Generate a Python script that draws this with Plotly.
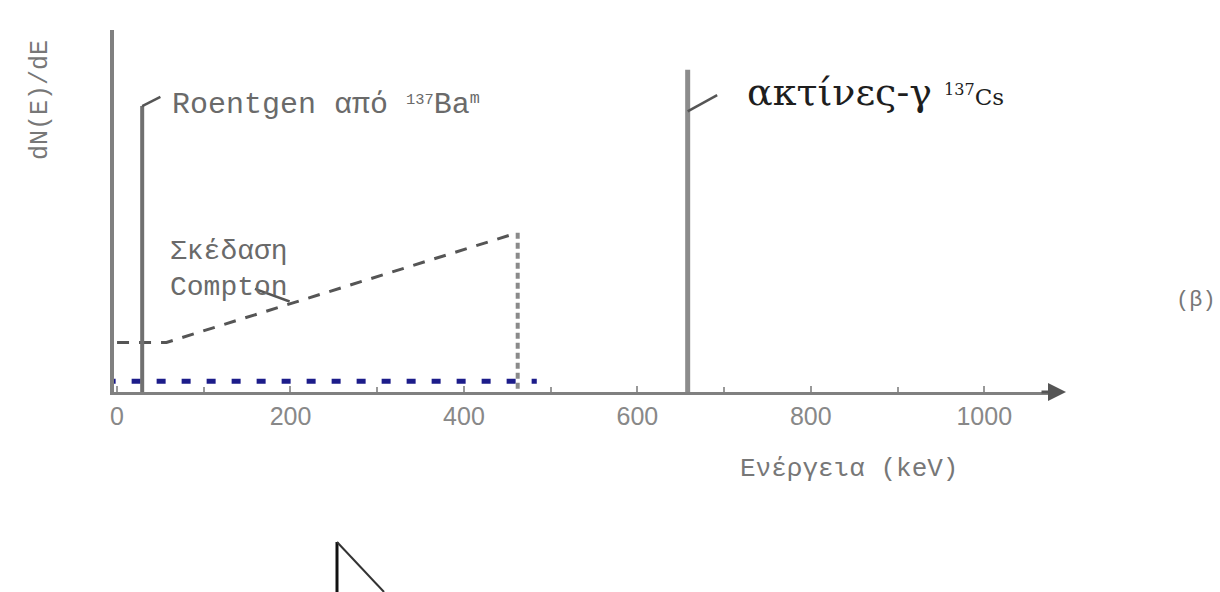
import plotly.graph_objects as go

# Energy spectrum of a 137Cs source (sketch): X-ray line, Compton continuum, photopeak
xray_energy = [29, 29]            # keV, Roentgen lines from 137Ba^m
xray_counts = [0, 79]
gamma_energy = [658, 658]         # keV, 137Cs gamma line
gamma_counts = [0, 89]
compton_energy = [0, 57, 462]     # Compton continuum up to the edge
compton_counts = [13.7, 13.7, 44]
edge_energy = [462, 462]
edge_counts = [44, 0]
base_energy = [-12, 484]
base_counts = [3, 3]
tick_vals = [0, 200, 400, 600, 800, 1000]
tick_text = ["0", "200", "400", "600", "800", "1000"]

W, H = 1220, 592
L, R, T, B = 114, 162, 30, 200
PW, PH = W - L - R, H - T - B


def px(xp):
    return (xp - L) / PW


def py(yp):
    return (H - B - yp) / PH


GREY = "#808080"
MONO = "Liberation Mono, DejaVu Sans Mono, monospace"

fig = go.Figure()
fig.add_trace(go.Scatter(x=base_energy, y=base_counts, mode="lines",
                         line=dict(color="#1c1c8a", width=5, dash="9px,16px")))
fig.add_trace(go.Scatter(x=compton_energy, y=compton_counts, mode="lines",
                         line=dict(color="#555555", width=3, dash="12px,10px")))
fig.add_trace(go.Scatter(x=edge_energy, y=edge_counts, mode="lines",
                         line=dict(color="#8a8a8a", width=4, dash="6px,4px")))
fig.add_trace(go.Scatter(x=xray_energy, y=xray_counts, mode="lines",
                         line=dict(color="#707070", width=4)))
fig.add_trace(go.Scatter(x=gamma_energy, y=gamma_counts, mode="lines",
                         line=dict(color="#8c8c8c", width=5)))

# leader lines from the marks to their labels
leaders = [((29, 79), (50, 81.5)), ((658, 77.5), (692, 82)), ((159, 28.5), (199, 25))]
for (x0, y0), (x1, y1) in leaders:
    fig.add_shape(type="line", x0=x0, y0=y0, x1=x1, y1=y1, xref="x", yref="y",
                  line=dict(color="#555555", width=2.5))

# corner mark below the chart
fig.add_shape(type="line", xref="paper", yref="paper", x0=px(337), y0=py(542),
              x1=px(337), y1=py(595), line=dict(color="#111111", width=3))
fig.add_shape(type="line", xref="paper", yref="paper", x0=px(337), y0=py(542),
              x1=px(384), y1=py(592), line=dict(color="#333333", width=2))

ann = []
ann.append(dict(x=px(170), y=py(105),
                text="Roentgen από <span style='font-size:22px'><sup>137</sup></span>Ba"
                     "<span style='font-size:24px'><sup>m</sup></span>",
                font=dict(family=MONO, size=30, color="#6a6a6a")))
ann.append(dict(x=px(745), y=py(92),
                text="ακτίνες-γ <span style='font-size:23px'><sup>137</sup>Cs</span>",
                font=dict(family="DejaVu Serif, serif", size=38, color="#1e1e1e")))
ann.append(dict(x=px(168), y=py(269), text="Σκέδαση<br>Compton",
                font=dict(family=MONO, size=28, color="#6a6a6a")))
ann.append(dict(x=px(738), y=py(469), text="Ενέργεια (keV)",
                font=dict(family=MONO, size=26, color="#777777")))
ann.append(dict(x=px(1174), y=py(300), text="(β)",
                font=dict(family=MONO, size=22, color="#777777")))
for a in ann:
    a.update(xref="paper", yref="paper", xanchor="left", yanchor="middle",
             showarrow=False, align="left")
ann.append(dict(x=px(41), y=py(100), xref="paper", yref="paper", text="dN(E)/dE",
                textangle=-90, showarrow=False, xanchor="center", yanchor="middle",
                font=dict(family=MONO, size=25, color="#777777")))
# arrowhead at the end of the energy axis
ann.append(dict(x=px(1066), y=0, xref="paper", yref="paper", ax=-26, ay=0,
                text="", showarrow=True, arrowhead=2, arrowsize=1.2, arrowwidth=3,
                arrowcolor="#555555"))

fig.update_layout(
    width=W, height=H, margin=dict(l=L, r=R, t=T, b=B),
    paper_bgcolor="white", plot_bgcolor="white", showlegend=False,
    annotations=ann,
    xaxis=dict(range=[-3.5, 1085], tickvals=tick_vals, ticktext=tick_text,
               showgrid=False, zeroline=False, showline=True, linecolor=GREY,
               linewidth=3, ticks="inside", ticklen=6, tickwidth=2, tickcolor="#999999",
               tickfont=dict(family="Liberation Sans, Arial, sans-serif", size=25,
                             color="#888888"),
               minor=dict(dtick=100, ticks="inside", ticklen=5, tickcolor="#999999")),
    yaxis=dict(range=[0, 100], showgrid=False, zeroline=False, showticklabels=False,
               showline=True, linecolor=GREY, linewidth=4, ticks=""),
)

fig.write_html("out.html")
